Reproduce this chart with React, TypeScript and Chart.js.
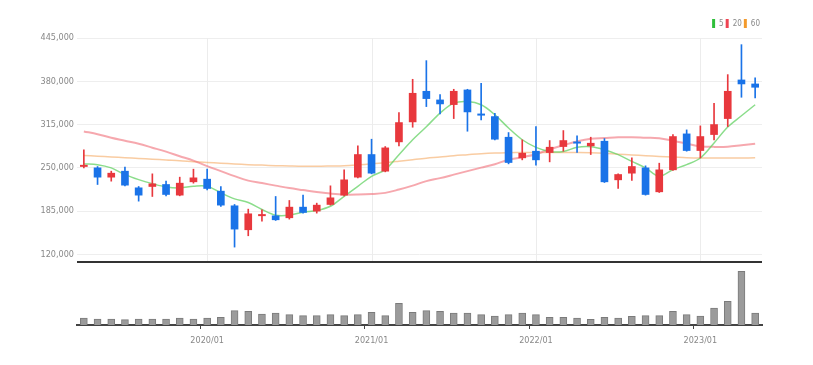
import React, { useEffect, useRef } from 'react';
import { Chart, registerables } from 'chart.js';

Chart.register(...registerables);

const months = [
  '2019/04', '2019/05', '2019/06', '2019/07', '2019/08', '2019/09', '2019/10', '2019/11', '2019/12',
  '2020/01', '2020/02', '2020/03', '2020/04', '2020/05', '2020/06', '2020/07', '2020/08', '2020/09', '2020/10', '2020/11', '2020/12',
  '2021/01', '2021/02', '2021/03', '2021/04', '2021/05', '2021/06', '2021/07', '2021/08', '2021/09', '2021/10', '2021/11', '2021/12',
  '2022/01', '2022/02', '2022/03', '2022/04', '2022/05', '2022/06', '2022/07', '2022/08', '2022/09', '2022/10', '2022/11', '2022/12',
  '2023/01', '2023/02', '2023/03', '2023/04', '2023/05',
];

const openPrices = [
  252000, 250000, 236000, 245000, 220000, 222000, 225000, 209000, 229000, 233000,
  215000, 193000, 157000, 178000, 178000, 175000, 191000, 185000, 195000, 209000,
  236000, 270000, 245000, 289000, 319000, 365000, 352000, 345000, 367000, 331000,
  327000, 296000, 265000, 275000, 273000, 282000, 289000, 283000, 290000, 232000,
  242000, 250000, 214000, 247000, 301000, 276000, 300000, 324000, 382000, 376000,
];
const highPrices = [
  277000, 252000, 245000, 251000, 222000, 241000, 230000, 236000, 248000, 248000,
  222000, 195000, 188000, 187000, 207000, 201000, 209000, 197000, 223000, 247000,
  283000, 293000, 282000, 333000, 383000, 411000, 360000, 368000, 368000, 377000,
  332000, 303000, 292000, 312000, 291000, 306000, 298000, 296000, 294000, 241000,
  265000, 253000, 257000, 300000, 307000, 313000, 347000, 390000, 435000, 385000,
];
const lowPrices = [
  250000, 225000, 230000, 223000, 200000, 207000, 208000, 208000, 227000, 217000,
  192000, 131000, 148000, 170000, 171000, 173000, 182000, 182000, 194000, 208000,
  235000, 241000, 244000, 283000, 311000, 342000, 331000, 324000, 305000, 322000,
  292000, 256000, 262000, 254000, 259000, 275000, 273000, 270000, 228000, 219000,
  231000, 209000, 213000, 246000, 275000, 265000, 292000, 312000, 356000, 355000,
];
const closePrices = [
  254000, 236000, 242000, 224000, 209000, 226000, 210000, 227000, 235000, 219000,
  194000, 158000, 181000, 180000, 172000, 191000, 183000, 194000, 205000, 232000,
  270000, 242000, 280000, 318000, 362000, 354000, 346000, 365000, 334000, 329000,
  293000, 258000, 272000, 262000, 281000, 291000, 287000, 287000, 229000, 240000,
  252000, 210000, 247000, 297000, 276000, 297000, 315000, 365000, 376000, 371000,
];
const volumes = [
  700000, 600000, 600000, 530000, 600000, 600000, 600000, 700000, 600000, 700000,
  770000, 1430000, 1370000, 1100000, 1200000, 1030000, 930000, 930000, 1030000, 930000,
  1030000, 1270000, 930000, 2170000, 1270000, 1430000, 1370000, 1200000, 1200000, 1030000,
  900000, 1030000, 1200000, 1030000, 770000, 770000, 700000, 570000, 770000, 700000,
  870000, 930000, 930000, 1370000, 1030000, 900000, 1700000, 2370000, 5370000, 1200000,
];
const ma5 = [
  255800, 254800, 249900, 239800, 232300, 226300, 221400, 219900, 222300, 222300,
  212400, 203400, 197900, 187400, 178900, 178900, 183400, 185900, 192300, 207300,
  222300, 237300, 247300, 269800, 292200, 311700, 332200, 347200, 349600, 344700,
  329700, 309800, 292200, 280800, 274700, 274700, 280800, 281800, 277300, 269800,
  259700, 249900, 237300, 247300, 254800, 264800, 287300, 311300, 328200, 344700,
];
const ma20 = [
  304700, 300500, 295200, 290700, 286200, 280300, 274300, 267500, 260800, 252600,
  245100, 237600, 230800, 227100, 223300, 219600, 216600, 213600, 211400, 209900,
  209900, 210600, 212400, 217400, 223300, 230100, 234600, 239800, 245100, 250300,
  255500, 262300, 266000, 270500, 278000, 284000, 289700, 293700, 294800, 296000,
  296000, 295200, 294500, 290700, 286200, 282200, 281500, 281800, 284000, 286200,
];
const ma60 = [
  268700, 267500, 266300, 265300, 264200, 263000, 261800, 260800, 259300, 258100,
  257000, 255800, 254800, 254100, 253300, 252800, 252400, 252400, 252800, 253300,
  254500, 256000, 257800, 260000, 262300, 264500, 266300, 268300, 269800, 271300,
  272300, 272800, 273100, 273200, 273200, 273200, 273100, 272800, 272000, 270500,
  269300, 268300, 267200, 266300, 265300, 264800, 264800, 264800, 264800, 265000,
];
const priceTicks = [120000, 185000, 250000, 315000, 380000, 445000];
const maLabels = ['5', '20', '60'];

const UP = '#e8383d';
const DOWN = '#1a73e8';
const FONT = "'Liberation Sans Narrow', 'DejaVu Sans Condensed', 'Liberation Sans', sans-serif";

const paneDecor = {
  id: 'paneDecor',
  beforeDatasetsDraw(chart: any) {
    const { ctx, chartArea, scales } = chart;
    const y = scales.y;
    const x = scales.x;
    const sepY = y.getPixelForValue(priceTicks[0]) + 8;
    ctx.save();
    ctx.strokeStyle = '#ececec';
    ctx.lineWidth = 1;
    months.forEach((m, i) => {
      if (m.endsWith('/01')) {
        const px = Math.round(x.getPixelForValue(i)) + 0.5;
        ctx.beginPath();
        ctx.moveTo(px, chartArea.top);
        ctx.lineTo(px, sepY);
        ctx.stroke();
      }
    });
    ctx.restore();
  },
  afterDatasetsDraw(chart: any) {
    const { ctx, chartArea, scales } = chart;
    const sepY = Math.round(scales.y.getPixelForValue(priceTicks[0]) + 8);
    ctx.save();
    ctx.strokeStyle = '#333333';
    ctx.lineWidth = 2;
    ctx.beginPath();
    ctx.moveTo(chartArea.left, sepY);
    ctx.lineTo(chartArea.right, sepY);
    ctx.stroke();
    ctx.restore();
  },
};

export default function App() {
  const ref = useRef<HTMLCanvasElement | null>(null);

  useEffect(() => {
    if (!ref.current) return;
    const candleColors = openPrices.map((o, i) => (closePrices[i] >= o ? UP : DOWN));
    const maSeries = [ma5, ma20, ma60];
    const maLine = ['rgba(100, 210, 100, 0.75)', 'rgba(240, 110, 120, 0.6)', 'rgba(245, 170, 100, 0.6)'];
    const maLegend = ['#2fbf3a', '#ef4452', '#f39a2c'];

    const chart = new Chart(ref.current, {
      type: 'bar',
      data: {
        labels: months,
        datasets: [
          ...maSeries.map((s, k) => ({
            type: 'line' as const,
            label: maLabels[k],
            data: s,
            yAxisID: 'y',
            borderColor: maLine[k],
            backgroundColor: maLegend[k],
            borderWidth: k === 1 ? 2 : 1.5,
            pointRadius: 0,
            tension: 0.35,
            fill: false,
            order: 5,
          })),
          {
            type: 'bar' as const,
            label: 'wick',
            data: months.map((_, i) => [lowPrices[i], highPrices[i]]),
            yAxisID: 'y',
            backgroundColor: candleColors,
            barThickness: 1,
            grouped: false,
            order: 1,
          },
          {
            type: 'bar' as const,
            label: 'body',
            data: months.map((_, i) => [openPrices[i], closePrices[i]]),
            yAxisID: 'y',
            backgroundColor: candleColors,
            barThickness: 7,
            grouped: false,
            order: 0,
          },
          {
            type: 'bar' as const,
            label: 'volume',
            data: volumes,
            yAxisID: 'yv',
            backgroundColor: '#9b9b9b',
            borderColor: '#7b7b7b',
            borderWidth: 1,
            barThickness: 7,
            grouped: false,
            order: 2,
          },
        ] as any,
      },
      options: {
        animation: false,
        responsive: false,
        layout: { padding: { left: 0, right: 51, top: 17, bottom: 0 } },
        plugins: {
          tooltip: { enabled: false },
          legend: {
            display: true,
            position: 'top',
            align: 'end',
            labels: {
              boxWidth: 3,
              boxHeight: 9,
              padding: 2,
              color: '#888',
              font: { family: FONT, size: 8 },
              generateLabels: () =>
                maLabels.map((t, k) => ({
                  text: t,
                  fillStyle: maLegend[k],
                  strokeStyle: maLegend[k],
                  lineWidth: 0,
                  hidden: false,
                  datasetIndex: k,
                  fontColor: '#888',
                })),
            },
          },
        },
        scales: {
          x: {
            type: 'category',
            offset: true,
            afterFit: (s: any) => { s.height = 40; },
            grid: {
              display: true,
              drawOnChartArea: false,
              drawTicks: true,
              tickLength: 4,
              color: (c: any) => (months[c.index] && months[c.index].endsWith('/01') ? '#444' : 'rgba(0,0,0,0)'),
            },
            border: { display: true, color: '#444', width: 2 },
            ticks: {
              autoSkip: false,
              maxRotation: 0,
              padding: 6,
              color: '#888',
              font: { family: FONT, size: 9 },
              callback: (_v: any, i: number) => (months[i].endsWith('/01') ? months[i] : ''),
            },
          },
          y: {
            type: 'linear',
            position: 'left',
            min: 14000,
            max: 445000,
            afterFit: (s: any) => { s.width = 77; },
            afterBuildTicks: (s: any) => { s.ticks = priceTicks.map((v) => ({ value: v })); },
            grid: { color: '#eeeeee', drawTicks: false },
            border: { display: false },
            ticks: {
              padding: 3,
              color: '#888',
              font: { family: FONT, size: 9 },
              callback: (v: any) => Number(v).toLocaleString('en-US'),
            },
          },
          yv: {
            type: 'linear',
            display: false,
            min: 0,
            max: 28700000,
          },
        },
      } as any,
      plugins: [paneDecor],
    });
    return () => chart.destroy();
  }, []);

  return (
    <div style={{ position: 'fixed', left: 0, top: 0, width: 813, height: 365, background: '#fff' }}>
      <canvas ref={ref} width={813} height={365} style={{ display: 'block' }} />
    </div>
  );
}
